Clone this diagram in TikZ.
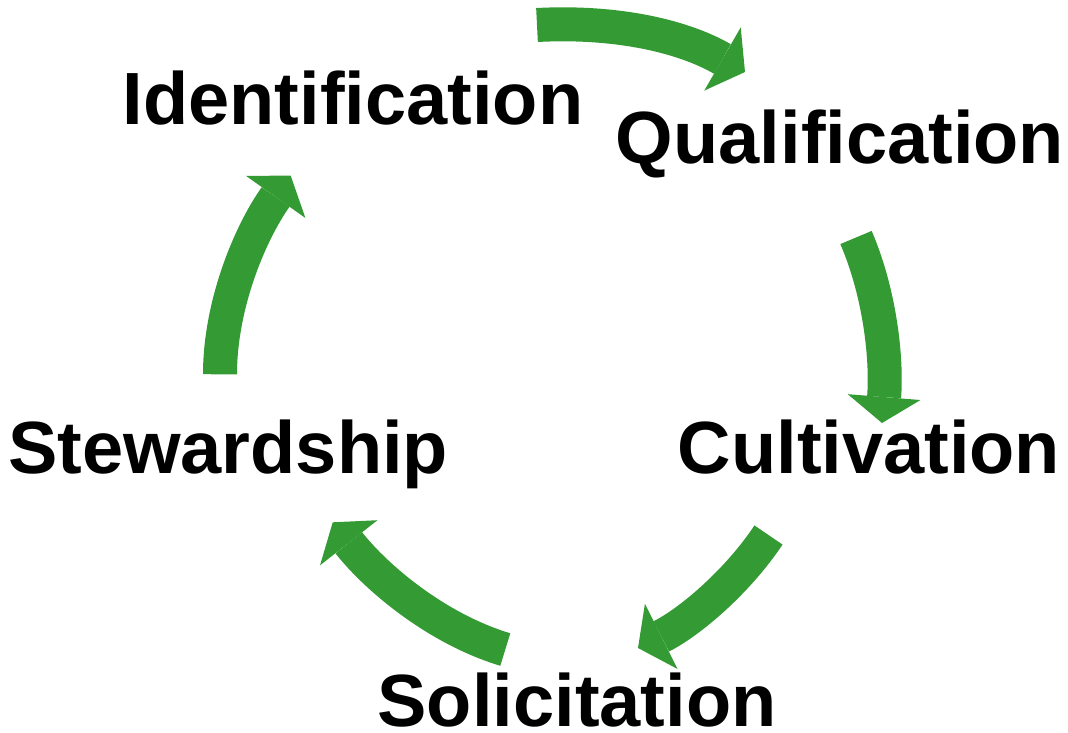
\documentclass[tikz,border=0pt]{standalone}
\usepackage{fontspec}
\setmainfont{Liberation Sans}
\usetikzlibrary{arrows.meta}
\definecolor{agreen}{RGB}{52,155,52}
\tikzset{
  lbl/.style={anchor=base, inner sep=0pt, font=\fontsize{74}{80}\selectfont\bfseries},
  cyc/.style={draw=agreen, line width=34pt, -{Triangle[width=73pt,length=26pt,line width=0pt]}}
}
\begin{document}
\begin{tikzpicture}[x=1pt,y=-1pt]
\useasboundingbox (0,0) rectangle (1068,732);
% labels
\node[lbl] (id) at (353,124) {Identification};
\node[lbl] (qu) at (840,163) {Qualification};
\node[lbl] (cu) at (869,473) {Cultivation};
\node[lbl] (so) at (577,726) {Solicitation};
\node[lbl] (st) at (228,473) {Stewardship};
% arrow end points
\coordinate (a1s) at (537,25);
\coordinate (a1e) at (745,72);
\coordinate (a2s) at (856,237.5);
\coordinate (a2e) at (882,423);
\coordinate (a3s) at (768.5,535);
\coordinate (a3e) at (638,648);
\coordinate (a4s) at (505.3,649.5);
\coordinate (a4e) at (332.7,522.3);
\coordinate (a5s) at (220,374.3);
\coordinate (a5e) at (290.7,175.7);
% arrows
\draw[cyc] (a1s) .. controls (612,21) and (680,34.5) .. (a1e);
\draw[cyc] (a2s) .. controls (880.6,294.5) and (887,361) .. (a2e);
\draw[cyc] (a3s) .. controls (736.9,582.4) and (689,622.5) .. (a3e);
\draw[cyc] (a4s) .. controls (437.3,629.1) and (376.6,578.2) .. (a4e);
\draw[cyc] (a5s) .. controls (220,304.3) and (250.2,232.8) .. (a5e);
\end{tikzpicture}
\end{document}
